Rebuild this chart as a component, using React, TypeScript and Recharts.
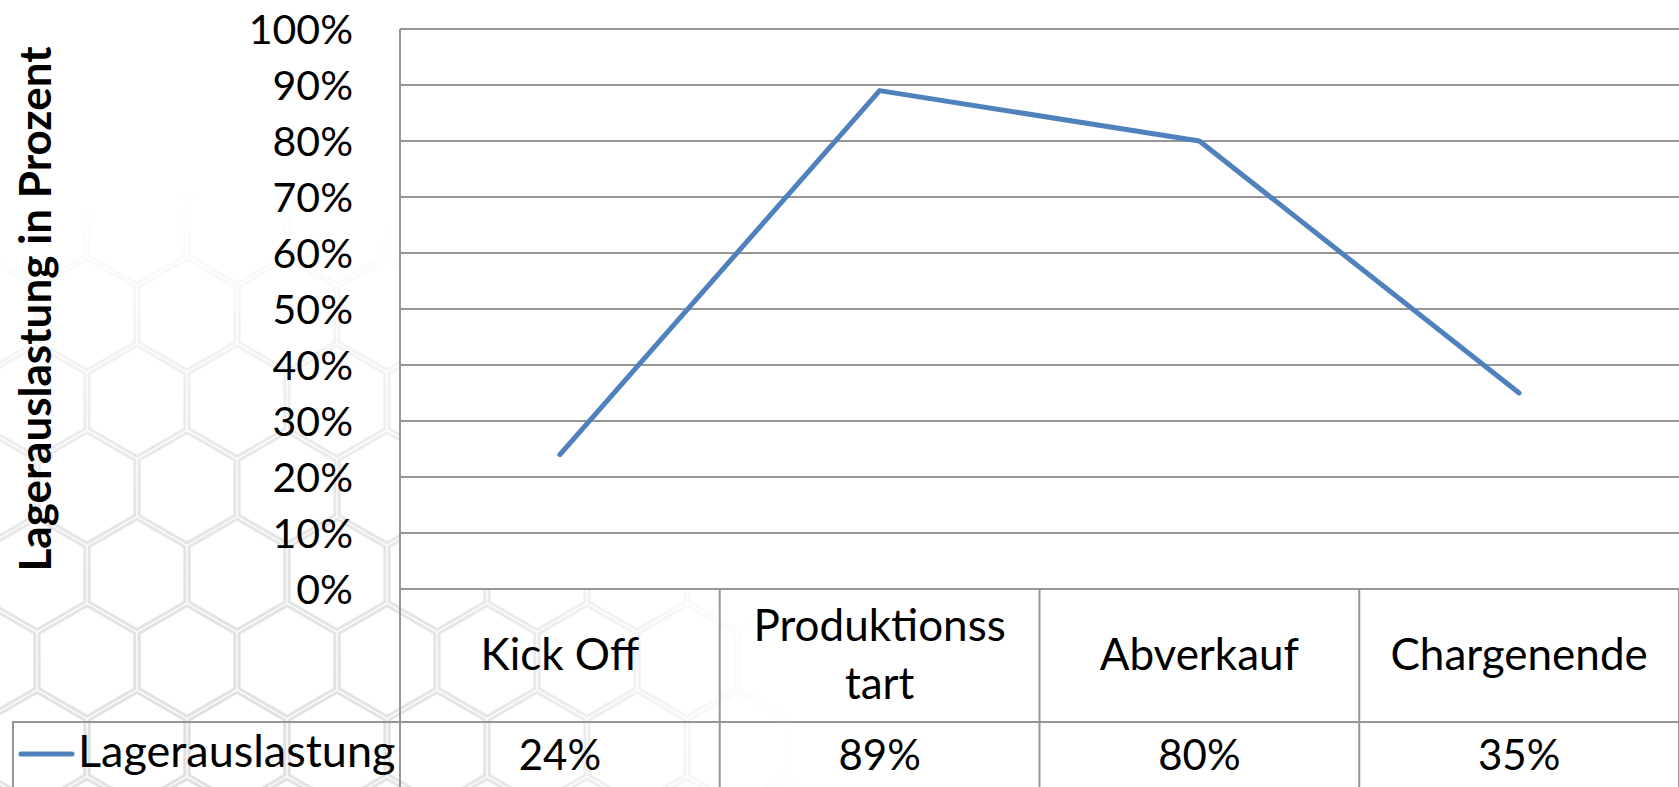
import { LineChart, Line, XAxis, YAxis, CartesianGrid, Legend, Label } from 'recharts'

// data
const categories = ['Kick Off', 'Produktionsstart', 'Abverkauf', 'Chargenende']
const categoryLines = [['Kick Off'], ['Produktionss', 'tart'], ['Abverkauf'], ['Chargenende']]
const lagerauslastung = [24, 89, 80, 35]
const yTicks = [0, 10, 20, 30, 40, 50, 60, 70, 80, 90, 100]
const seriesName = 'Lagerauslastung'
const yTitle = 'Lagerauslastung in Prozent'

const data = categories.map((name, i) => ({ name, value: lagerauslastung[i] }))

const W = 1679
const H = 787
const FONT = 'Lato, "Open Sans", sans-serif'
const BLUE = '#4F81BD'
const GRID = '#969696'
const PLOT_LEFT = 400
const PLOT_W = W - PLOT_LEFT
const PAD = PLOT_W / categories.length / 2

function TableTick(props: any) {
    const { x, y, payload, index } = props
    const half = PAD
    const lines = categoryLines[index] || [String(payload.value)]
    const rowSplit = y + 133
    const bottom = y + 200
    const base = y + 81 - ((lines.length - 1) * 58) / 2
    return (
        <g>
            {index === 0 && (
                <line x1={x - half} y1={y} x2={x - half} y2={bottom} stroke={GRID} strokeWidth={2} />
            )}
            <line x1={x + half} y1={y} x2={x + half} y2={bottom} stroke={GRID} strokeWidth={2} />
            <line x1={x - half} y1={rowSplit} x2={x + half} y2={rowSplit} stroke={GRID} strokeWidth={2} />
            <text textAnchor="middle" fontFamily={FONT} fontSize={44} fill="#000">
                {lines.map((t: string, i: number) => (
                    <tspan key={i} x={x} y={base + i * 58}>{t}</tspan>
                ))}
            </text>
            <text x={x} y={y + 181} textAnchor="middle" fontFamily={FONT} fontSize={42} fill="#000">
                {lagerauslastung[index]}%
            </text>
        </g>
    )
}

function YTitle(props: any) {
    const vb = props.viewBox || { y: 29, height: 560 }
    const cx = 51
    const cy = vb.y + vb.height / 2
    return (
        <text
            x={cx}
            y={cy}
            transform={`rotate(-90 ${cx} ${cy})`}
            textAnchor="middle"
            fontFamily={FONT}
            fontWeight={700}
            fontSize={44}
            fill="#000"
        >
            {yTitle}
        </text>
    )
}

function LegendCell() {
    return (
        <svg width={388} height={66} style={{ display: 'block' }}>
            <line x1={0} y1={1} x2={388} y2={1} stroke={GRID} strokeWidth={2} />
            <line x1={1} y1={0} x2={1} y2={66} stroke={GRID} strokeWidth={2} />
            <line x1={9} y1={33} x2={60} y2={33} stroke={BLUE} strokeWidth={5} strokeLinecap="round" />
            <text x={66} y={46} fontFamily={FONT} fontSize={45} fill="#000">{seriesName}</text>
        </svg>
    )
}

function HexBackdrop() {
    const s = 100 / Math.sqrt(3)
    const r = s - 2.5
    const tileH = 3 * s
    const hex = (cx: number, cy: number) => {
        const pts = [-90, -30, 30, 90, 150, 210]
            .map((a) => {
                const rad = (a * Math.PI) / 180
                return `${cx + r * Math.cos(rad)},${cy + r * Math.sin(rad)}`
            })
            .join(' ')
        return <polygon key={`${cx}-${cy}`} points={pts} fill="none" stroke="#dedede" strokeWidth={3} />
    }
    const centers = [[0, 0], [100, 0], [50, 1.5 * s], [0, tileH], [100, tileH]]
    return (
        <svg width={W} height={H} style={{ position: 'absolute', left: 0, top: 0 }}>
            <defs>
                <pattern id="hex" patternUnits="userSpaceOnUse" x={87} y={661 - 3 * tileH} width={100} height={tileH}>
                    {centers.map(([cx, cy]) => hex(cx, cy))}
                </pattern>
                <radialGradient id="fade" gradientUnits="userSpaceOnUse" cx={200} cy={790} r={600}>
                    <stop offset="0" stopColor="#fff" stopOpacity={1} />
                    <stop offset="0.5" stopColor="#fff" stopOpacity={0.8} />
                    <stop offset="1" stopColor="#fff" stopOpacity={0} />
                </radialGradient>
                <mask id="hexMask">
                    <rect x={0} y={0} width={W} height={H} fill="url(#fade)" />
                </mask>
            </defs>
            <rect x={0} y={0} width={W} height={H} fill="url(#hex)" mask="url(#hexMask)" />
        </svg>
    )
}

export default function App() {
    return (
        <div style={{ position: 'absolute', left: 0, top: 0, width: W, height: H, background: '#fff', overflow: 'hidden' }}>
            <HexBackdrop />
            <div style={{ position: 'absolute', left: 0, top: 0 }}>
                <LineChart width={W} height={H} data={data} margin={{ top: 29, right: 0, bottom: 0, left: 40 }}>
                    <CartesianGrid vertical={false} stroke={GRID} strokeWidth={2} fill="#fff" fillOpacity={1} />
                    <XAxis
                        dataKey="name"
                        height={198}
                        padding={{ left: PAD, right: PAD }}
                        interval={0}
                        tickLine={false}
                        tickSize={0}
                        tickMargin={0}
                        axisLine={{ stroke: GRID, strokeWidth: 2 }}
                        tick={<TableTick />}
                    />
                    <YAxis
                        width={360}
                        domain={[0, 100]}
                        ticks={yTicks}
                        tickFormatter={(v) => `${v}%`}
                        tickLine={false}
                        tickSize={0}
                        tickMargin={47}
                        axisLine={{ stroke: GRID, strokeWidth: 2 }}
                        tick={{ fontFamily: FONT, fontSize: 41, fill: '#000' }}
                    >
                        <Label content={<YTitle />} />
                    </YAxis>
                    <Legend
                        layout="horizontal"
                        verticalAlign="middle"
                        align="center"
                        content={<LegendCell />}
                        wrapperStyle={{ left: 12, top: 721, width: 388, height: 66 }}
                    />
                    <Line
                        type="linear"
                        dataKey="value"
                        name={seriesName}
                        stroke={BLUE}
                        strokeWidth={5}
                        strokeLinecap="round"
                        strokeLinejoin="round"
                        dot={false}
                        activeDot={false}
                        isAnimationActive={false}
                    />
                </LineChart>
            </div>
        </div>
    )
}
